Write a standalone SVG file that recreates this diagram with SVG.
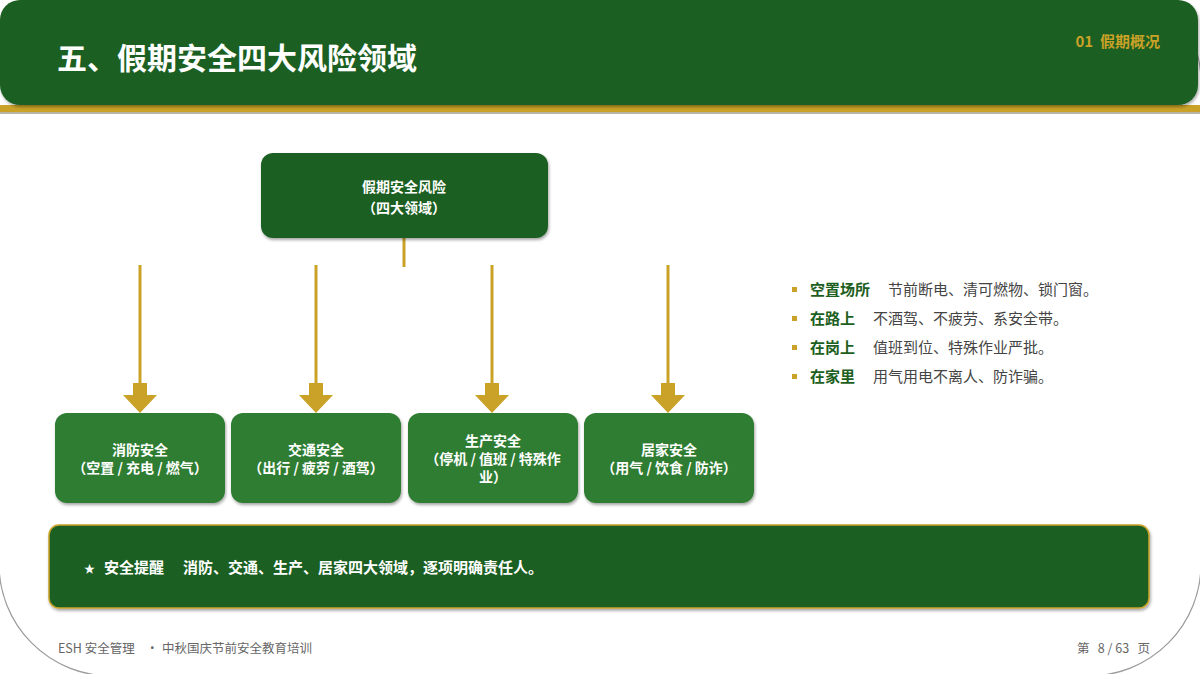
<svg xmlns="http://www.w3.org/2000/svg" width="1200" height="674" viewBox="0 0 1200 674">
<defs>
<filter id="sh" x="-10%" y="-10%" width="120%" height="130%">
<feDropShadow dx="1" dy="2" stdDeviation="1.5" flood-color="#000" flood-opacity="0.35"/>
</filter>
<style>
text{font-family:"Noto Sans CJK SC","DejaVu Sans",sans-serif;white-space:pre;}
.w{fill:#fff;font-weight:bold;font-size:14px;text-anchor:middle;}
.top{fill:#1d5e21;}
.sub{fill:#2e7d32;}
.ln{stroke:#c9a227;stroke-width:3;fill:none;}
.ah{fill:#c9a227;}
.bk{fill:#1d5e21;font-weight:bold;font-size:15px;}
.nt{fill:#444;font-size:15px;}
.ft{fill:#666;font-size:12.5px;}
</style>
</defs>
<rect width="1200" height="674" fill="#fff"/>
<rect x="-1" y="-30" width="1202" height="706" rx="112" ry="112" fill="none" stroke="#9a9a9a" stroke-width="1.2"/>
<g id="header">
<rect x="0" y="110" width="1200" height="4" fill="#b9b4a6"/>
<rect x="0" y="105" width="1200" height="7" fill="#c9a227"/>
<rect x="0" y="0" width="1198" height="105" rx="20" fill="#1d5e21" filter="url(#sh)"/>
<text x="57" y="69" fill="#fff" font-size="30" font-weight="bold">五、假期安全四大风险领域</text>
<text x="1160" y="47" fill="#c9a227" font-size="15" font-weight="bold" text-anchor="end">01  假期概况</text>
</g>
<g id="connectors">
<line class="ln" x1="404" y1="238" x2="404" y2="267"/>
<line class="ln" x1="140" y1="265" x2="140" y2="385"/>
<line class="ln" x1="316" y1="265" x2="316" y2="385"/>
<line class="ln" x1="492" y1="265" x2="492" y2="385"/>
<line class="ln" x1="668" y1="265" x2="668" y2="385"/>
<path class="ah" d="M133,383h14v12h10l-17,18l-17,-18h10z"/>
<path class="ah" d="M309,383h14v12h10l-17,18l-17,-18h10z"/>
<path class="ah" d="M485,383h14v12h10l-17,18l-17,-18h10z"/>
<path class="ah" d="M661,383h14v12h10l-17,18l-17,-18h10z"/>
</g>
<g id="root">
<rect class="top" x="261" y="153" width="287" height="85" rx="12" filter="url(#sh)"/>
<text class="w" x="404" y="192" font-size="15">假期安全风险</text>
<text class="w" x="404" y="213" font-size="15">（四大领域）</text>
</g>
<g id="fire">
<rect class="sub" x="55" y="413" width="170" height="90" rx="12" filter="url(#sh)"/>
<text class="w" x="140" y="455">消防安全</text>
<text class="w" x="140" y="473">（空置 / 充电 / 燃气）</text>
</g>
<g id="traffic">
<rect class="sub" x="231" y="413" width="170" height="90" rx="12" filter="url(#sh)"/>
<text class="w" x="316" y="455">交通安全</text>
<text class="w" x="316" y="473">（出行 / 疲劳 / 酒驾）</text>
</g>
<g id="production">
<rect class="sub" x="408" y="413" width="170" height="90" rx="12" filter="url(#sh)"/>
<text class="w" x="493" y="446">生产安全</text>
<text class="w" x="493" y="464">（停机 / 值班 / 特殊作</text>
<text class="w" x="493" y="482">业）</text>
</g>
<g id="home">
<rect class="sub" x="584" y="413" width="170" height="90" rx="12" filter="url(#sh)"/>
<text class="w" x="669" y="455">居家安全</text>
<text class="w" x="669" y="473">（用气 / 饮食 / 防诈）</text>
</g>
<g id="bullets">
<rect x="792" y="287" width="5" height="5" fill="#c9a227"/>
<text x="810" y="295"><tspan class="bk">空置场所</tspan><tspan class="nt" x="888">节前断电、清可燃物、锁门窗。</tspan></text>
<rect x="792" y="316" width="5" height="5" fill="#c9a227"/>
<text x="810" y="324"><tspan class="bk">在路上</tspan><tspan class="nt" x="873">不酒驾、不疲劳、系安全带。</tspan></text>
<rect x="792" y="345" width="5" height="5" fill="#c9a227"/>
<text x="810" y="353"><tspan class="bk">在岗上</tspan><tspan class="nt" x="873">值班到位、特殊作业严批。</tspan></text>
<rect x="792" y="374" width="5" height="5" fill="#c9a227"/>
<text x="810" y="382"><tspan class="bk">在家里</tspan><tspan class="nt" x="873">用气用电不离人、防诈骗。</tspan></text>
</g>
<g id="banner">
<rect x="49" y="525" width="1100" height="83" rx="10" fill="#1d5e21" stroke="#c9a227" stroke-width="1.5" filter="url(#sh)"/>
<text x="84" y="573" fill="#fff" font-size="15" font-weight="bold"><tspan font-size="11">★</tspan><tspan x="104">安全提醒</tspan><tspan x="183">消防、交通、生产、居家四大领域，逐项明确责任人。</tspan></text>
</g>
<g id="footer">
<text class="ft" x="58" y="653">ESH 安全管理</text>
<text class="ft" x="146" y="653">·</text>
<text class="ft" x="162" y="653">中秋国庆节前安全教育培训</text>
<text class="ft" x="1150" y="653" text-anchor="end">第   8 / 63   页</text>
</g>
</svg>
